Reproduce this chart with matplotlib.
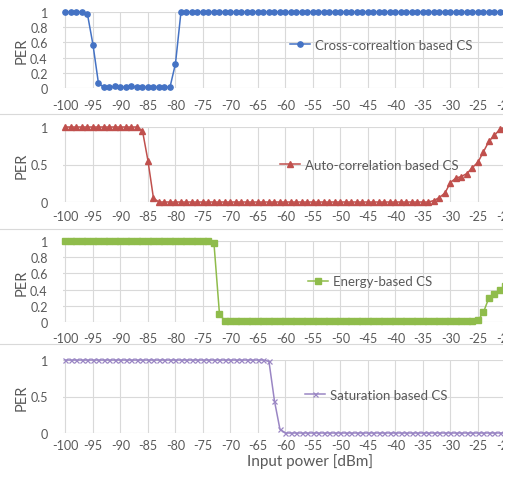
import matplotlib
matplotlib.use('Agg')
from matplotlib import pyplot as plt
from matplotlib.lines import Line2D
from matplotlib.patches import Rectangle
from matplotlib.ticker import FuncFormatter, MultipleLocator

plt.rcParams['font.family'] = ['Lato', 'DejaVu Sans']
plt.rcParams['figure.dpi'] = 100

# input power in dBm, 1 dB steps (categories of the Excel line charts)
power = list(range(-100, -19))

cross_corr = [1, 1, 1, 1, 0.97, 0.57, 0.06,
              0.01, 0.01, 0.02, 0.01, 0.01, 0.02, 0.01, 0.01, 0.01, 0.01, 0.01, 0.01, 0.01,
              0.32,
              1, 1, 1, 1, 1, 1, 1, 1, 1, 1, 1, 1, 1, 1, 1, 1, 1, 1, 1, 1,
              1, 1, 1, 1, 1, 1, 1, 1, 1, 1, 1, 1, 1, 1, 1, 1, 1, 1, 1, 1,
              1, 1, 1, 1, 1, 1, 1, 1, 1, 1, 1, 1, 1, 1, 1, 1, 1, 1, 1, 1]

auto_corr = [1, 1, 1, 1, 1, 1, 1, 1, 1, 1, 1, 1, 1, 1,
             0.95, 0.55, 0.05,
             0, 0, 0, 0, 0, 0, 0, 0, 0, 0, 0, 0, 0, 0, 0, 0, 0, 0, 0, 0,
             0, 0, 0, 0, 0, 0, 0, 0, 0, 0, 0, 0, 0, 0, 0, 0, 0, 0, 0, 0,
             0, 0, 0, 0, 0, 0, 0, 0, 0,
             0, 0.02, 0.06, 0.12, 0.26, 0.32, 0.34, 0.38, 0.46, 0.53, 0.67, 0.81, 0.89, 0.97, 1.0]

energy = [1, 1, 1, 1, 1, 1, 1, 1, 1, 1, 1, 1, 1, 1, 1, 1, 1, 1, 1, 1,
          1, 1, 1, 1, 1, 1, 1,
          0.97, 0.1,
          0.01, 0.01, 0.01, 0.01, 0.01, 0.01, 0.01, 0.01, 0.01, 0.01, 0.01, 0.01, 0.01, 0.01, 0.01, 0.01,
          0.01, 0.01, 0.01, 0.01, 0.01, 0.01, 0.01, 0.01, 0.01, 0.01, 0.01, 0.01, 0.01, 0.01, 0.01, 0.01,
          0.01, 0.01, 0.01, 0.01, 0.01, 0.01, 0.01, 0.01, 0.01, 0.01, 0.01, 0.01, 0.01, 0.01,
          0.02, 0.12, 0.3, 0.34, 0.4, 0.45]

saturation = [1, 1, 1, 1, 1, 1, 1, 1, 1, 1, 1, 1, 1, 1, 1, 1, 1, 1, 1, 1,
              1, 1, 1, 1, 1, 1, 1, 1, 1, 1, 1, 1, 1, 1, 1, 1, 1,
              0.98, 0.44, 0.05,
              0, 0, 0, 0, 0, 0, 0, 0, 0, 0, 0, 0, 0, 0, 0, 0, 0, 0, 0, 0,
              0, 0, 0, 0, 0, 0, 0, 0, 0, 0, 0, 0, 0, 0, 0, 0, 0, 0, 0, 0, 0]

labels = ['Cross-correaltion based CS', 'Auto-correlation based CS',
          'Energy-based CS', 'Saturation based CS']
series = [cross_corr, auto_corr, energy, saturation]

W, H = 511, 481
grey_txt = '#595959'
grid_c = '#d9d9d9'

# per panel: (top px, bottom px, y step, colour, marker, size, legend x, legend y, x tick pad)
panels = [
    (13, 89, 0.2, '#4472c4', 'o', 3.8, 0.509, 0.57, 8),
    (128, 203, 0.5, '#c0504d', '^', 3.8, 0.486, 0.50, 6),
    (242, 323, 0.2, '#8fbc4b', 's', 4.2, 0.549, 0.50, 7),
    (361, 434, 0.5, '#9a86c4', 'x', 3.6, 0.542, 0.52, 4),
]

fig = plt.figure(figsize=(W / 100, H / 100))
left_px, right_px = 63, 509.3

for i, (top, bot, step, col, mk, ms, lx, ly, pad) in enumerate(panels):
    ax = fig.add_axes([left_px / W, 1 - bot / H, (right_px - left_px) / W, (bot - top) / H])
    line_kw = dict(color=col, lw=1.1, marker=mk, markersize=ms, label=labels[i], clip_on=False)
    if mk == 'x':
        line_kw['markeredgewidth'] = 0.9
    ax.plot(power, series[i], **line_kw)
    ax.set_xlim(-100.45, -19.3)
    ax.set_ylim(0, 1)
    ax.xaxis.set_major_locator(MultipleLocator(5))
    ax.yaxis.set_major_locator(MultipleLocator(step))
    ax.xaxis.set_major_formatter(FuncFormatter(lambda v, p: '%d' % v))
    ax.yaxis.set_major_formatter(FuncFormatter(lambda v, p: '%g' % round(v, 2)))
    ax.grid(True, color=grid_c, lw=0.8)
    ax.set_axisbelow(True)
    for s in ax.spines.values():
        s.set_visible(False)
    ax.tick_params(length=0, labelsize=9, colors=grey_txt)
    ax.tick_params(axis='x', pad=pad)
    ax.tick_params(axis='y', pad=11)
    ax.set_ylabel('PER', fontsize=10.5, color=grey_txt)
    ax.yaxis.set_label_coords((29 - left_px) / (right_px - left_px), 0.5)
    ax.legend(loc='center left', bbox_to_anchor=(lx, ly), frameon=False, fontsize=9.5,
              labelcolor=grey_txt, handlelength=1.5, handletextpad=0.4,
              borderpad=0, borderaxespad=0)
    if i == 3:
        ax.set_xlabel('Input power [dBm]', fontsize=11, color=grey_txt)
        ax.xaxis.set_label_coords((310 - left_px) / (right_px - left_px), -0.28)

# thin borders between the pasted charts
for yp in (115, 230, 345):
    fig.add_artist(Line2D([0, 1], [1 - yp / H, 1 - yp / H], color=grid_c, lw=0.8))

# the screenshot is cut off on the right
fig.add_artist(Rectangle((503 / W, 0), 1, 1, transform=fig.transFigure,
                         facecolor='white', edgecolor='none', zorder=10))

fig.savefig('out.png', dpi=100)
